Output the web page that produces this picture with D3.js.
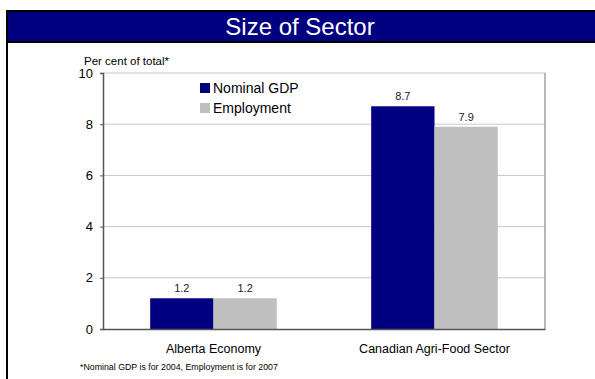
<!DOCTYPE html>
<html>
<head>
<meta charset="utf-8">
<script src="https://cdn.jsdelivr.net/npm/d3@7"></script>
<style>
  html, body { margin: 0; padding: 0; background: #fff; }
  svg { display: block; font-family: "Liberation Sans", Arial, sans-serif; }
</style>
</head>
<body>
<svg id="chart" width="595" height="379"></svg>
<script>
// Chart data
const categories = ["Alberta Economy", "Canadian Agri-Food Sector"];
const seriesNames = ["Nominal GDP", "Employment"];
const nominalGDP = [1.2, 8.7];
const employment = [1.2, 7.9];
const valueLabels = [["1.2", "8.7"], ["1.2", "7.9"]];
const yTicks = [0, 2, 4, 6, 8, 10];
const seriesColors = ["#000080", "#C0C0C0"];

const title = "Size of Sector";
const yTitle = "Per cent of total*";
const footnote = "*Nominal GDP is for 2004, Employment is for 2007";

const svg = d3.select("#chart");

// Slide frame and title banner
svg.append("rect").attr("x", 6).attr("y", 10).attr("width", 595).attr("height", 33)
  .attr("fill", "#000");
svg.append("rect").attr("x", 8).attr("y", 12).attr("width", 595).attr("height", 29)
  .attr("fill", "#000080");
svg.append("rect").attr("x", 6).attr("y", 10).attr("width", 2).attr("height", 379)
  .attr("fill", "#000");
svg.append("text").attr("x", 300).attr("y", 35).attr("text-anchor", "middle")
  .attr("fill", "#fff").attr("font-size", 24).text(title);

// Plot area
const plot = { left: 103, right: 545, top: 73, bottom: 329 };

const y = d3.scaleLinear().domain([0, 10]).range([plot.bottom, plot.top]);
const x0 = d3.scaleBand().domain(categories).range([plot.left, plot.right]).padding(0);
const x1 = d3.scaleBand().domain(seriesNames)
  .range([0, x0.bandwidth()]).paddingOuter(0.745).paddingInner(0);

const series = [nominalGDP, employment];

// Gridlines
svg.append("g").selectAll("line").data(yTicks.filter(d => d > 0)).join("line")
  .attr("x1", plot.left).attr("x2", plot.right)
  .attr("y1", d => y(d)).attr("y2", d => y(d))
  .attr("stroke", "#c8c8c8").attr("stroke-width", 1);

// Right frame edge
svg.append("line").attr("x1", plot.right).attr("x2", plot.right)
  .attr("y1", plot.top).attr("y2", plot.bottom)
  .attr("stroke", "#a0a0a0").attr("stroke-width", 1.5);

// Bars with value labels
seriesNames.forEach((name, si) => {
  svg.append("g").selectAll("rect").data(categories).join("rect")
    .attr("x", c => x0(c) + x1(name))
    .attr("y", (c, i) => y(series[si][i]))
    .attr("width", x1.bandwidth())
    .attr("height", (c, i) => y(0) - y(series[si][i]))
    .attr("fill", seriesColors[si]);
  svg.append("g").selectAll("text").data(categories).join("text")
    .attr("x", c => x0(c) + x1(name) + x1.bandwidth() / 2)
    .attr("y", (c, i) => y(series[si][i]) - 6)
    .attr("text-anchor", "middle").attr("font-size", 11).attr("fill", "#222")
    .text((c, i) => valueLabels[si][i]);
});

// Y axis
const yAxis = svg.append("g").attr("transform", `translate(${plot.left},0)`)
  .call(d3.axisLeft(y).tickValues(yTicks).tickSize(3).tickPadding(7).tickFormat(d3.format("d")));
yAxis.select(".domain").attr("stroke", "#555").attr("stroke-width", 1.5);
yAxis.selectAll(".tick line").attr("stroke", "#555");
yAxis.selectAll(".tick text").attr("font-size", 13).attr("fill", "#000")
  .attr("font-family", "Liberation Sans, Arial, sans-serif");

// X axis
const xAxis = svg.append("g").attr("transform", `translate(0,${plot.bottom})`)
  .call(d3.axisBottom(x0).tickSize(0).tickPadding(15));
xAxis.select(".domain").attr("stroke", "#555").attr("stroke-width", 1.5);
xAxis.selectAll(".tick text").attr("font-size", 12.5).attr("fill", "#000")
  .attr("font-family", "Liberation Sans, Arial, sans-serif");

// Axis title
svg.append("text").attr("x", 84).attr("y", 65).attr("font-size", 11.5).attr("fill", "#000")
  .text(yTitle);

// Legend
const legend = svg.append("g").selectAll("g").data(seriesNames).join("g")
  .attr("transform", (d, i) => `translate(200,${83 + i * 20})`);
legend.append("rect").attr("width", 10).attr("height", 10)
  .attr("fill", (d, i) => seriesColors[i]);
legend.append("text").attr("x", 13).attr("y", 10).attr("font-size", 14).attr("fill", "#000")
  .text(d => d);

// Footnote
svg.append("text").attr("x", 80).attr("y", 370).attr("font-size", 8.8).attr("fill", "#000")
  .text(footnote);
</script>
</body>
</html>
